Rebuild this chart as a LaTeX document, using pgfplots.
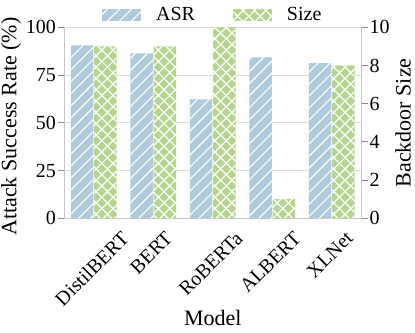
\documentclass[border=0pt]{standalone}
\usepackage{graphicx}
\usepackage{pgfplots}
\pgfplotsset{compat=1.18}
\usetikzlibrary{patterns.meta}
\usepackage{fontspec}
\setmainfont{Liberation Serif}
\definecolor{asrblue}{HTML}{AFCADB}
\definecolor{sizegreen}{HTML}{B6D48F}
\definecolor{spinegray}{HTML}{C8C8C8}
\definecolor{gridgray}{HTML}{DDDDDD}
\definecolor{tickgray}{HTML}{8A8A8A}
\begin{document}
\fontsize{20bp}{24bp}\selectfont
\begin{tikzpicture}[font=\fontsize{20bp}{24bp}\selectfont]
\useasboundingbox (-64bp,-114.7bp) rectangle (351bp,218.3bp);
\pgfplotsset{
  base/.style={
    scale only axis, width=297.5bp, height=191bp,
    at={(0,0)}, anchor=south west,
    xmin=-0.5, xmax=4.5,
    /pgf/number format/assume math mode=true,
    axis line style={spinegray, line width=0.8bp},
    tick style={tickgray, line width=0.8bp},
    major tick length=6bp,
    tick align=outside,
    ybar, bar width=0.375,
    label style={font=\fontsize{22bp}{26bp}\selectfont},
  },
}
\begin{axis}[base,
  ymin=0, ymax=100, ytick={0,25,50,75,100},
  axis y line*=left, axis x line*=bottom,
  xtick={0,1,2,3,4},
  xticklabels={\rotatebox{45}{DistilBERT},\rotatebox{45}{BERT},\rotatebox{45}{RoBERTa},\rotatebox{45}{ALBERT},\rotatebox{45}{XLNet}},
  x tick style={draw=none},
  xticklabel style={anchor=north, inner sep=0pt, yshift=-6bp, xshift=-2bp},
  yticklabel style={inner sep=2bp},
  ymajorgrids, grid style={gridgray, line width=0.8bp},
  ylabel={Attack Success Rate (\%)},
  ylabel style={at={(axis description cs:-0.178,0.48)}, anchor=center},
  xlabel={Model},
  xlabel style={at={(axis description cs:0.5,-0.52)}, anchor=center},
  legend style={draw=none, fill=none, at={(axis description cs:0.5,1.062)}, anchor=center,
    legend columns=2,
    /tikz/every odd column/.append style={column sep=13bp},
    /tikz/every even column/.append style={column sep=36bp}},
  legend image code/.code={\path[#1, draw=none] (0bp,-6bp) rectangle (39bp,6bp);},
]
\addplot[fill=asrblue, draw=none, bar shift=-0.195,
  postaction={pattern={Lines[angle=45, distance=8.5bp, line width=1.1bp]}, pattern color=white}]
  coordinates {(0,90.6) (1,86.4) (2,62.3) (3,84.3) (4,81.2)};
\addlegendentry{ASR}
\addlegendimage{fill=sizegreen, draw=none,
  postaction={pattern={Hatch[angle=45, distance=8bp, line width=1.2bp]}, pattern color=white}}
\addlegendentry{Size}
\end{axis}
\begin{axis}[base,
  ymin=0, ymax=10, ytick={0,2,4,6,8,10},
  axis y line*=right, axis x line=none,
  yticklabel style={inner sep=2bp},
  ylabel={Backdoor Size},
  ylabel style={at={(axis description cs:1.14,0.5)}, anchor=center, rotate=0},
]
\addplot[fill=sizegreen, draw=none, bar shift=0.195,
  postaction={pattern={Hatch[angle=45, distance=8bp, line width=1.2bp]}, pattern color=white}]
  coordinates {(0,9) (1,9) (2,10) (3,1) (4,8)};
\end{axis}
\end{tikzpicture}
\end{document}
